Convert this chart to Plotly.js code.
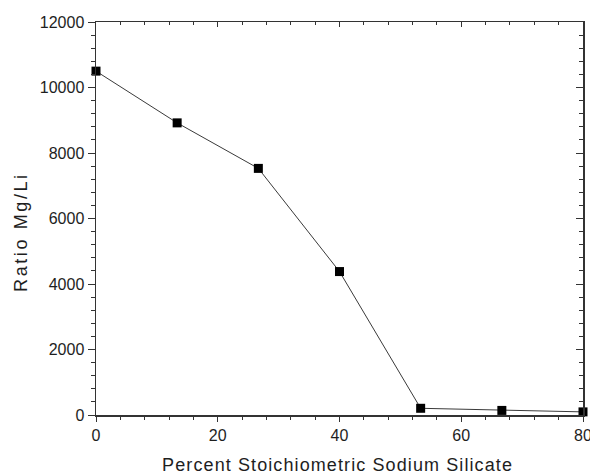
<!DOCTYPE html>
<html>
<head>
<meta charset="utf-8">
<script src="https://cdn.plot.ly/plotly-3.0.1.min.js"></script>
<style>
html,body{margin:0;padding:0;background:#fff;}
#chart{width:590px;height:472px;}
.xtitle-ann text{letter-spacing:1px;}
</style>
</head>
<body>
<div id="chart"></div>
<script>
var percentSilicate = [0, 13.33, 26.67, 40, 53.33, 66.67, 80];
var ratioMgLi = [10500, 8920, 7530, 4380, 205, 140, 95];
var xTickVals = [0, 20, 40, 60, 80];
var yTickVals = [0, 2000, 4000, 6000, 8000, 10000, 12000];
var xTitle = "Percent Stoichiometric Sodium Silicate";
var yTitle = "Ratio Mg/Li";

var fontFam = "Liberation Sans, Arial, sans-serif";
var axisCol = "#333333";
var txtCol = "#1e1e1e";

var trace = {
  x: percentSilicate, y: ratioMgLi, type: "scatter", mode: "lines+markers",
  line: {color: "#3a3a3a", width: 1},
  marker: {symbol: "square", size: 9, color: "#000000"},
  cliponaxis: false, showlegend: false
};

var layout = {
  width: 590, height: 472,
  margin: {l: 96, r: 7, t: 22, b: 57},
  paper_bgcolor: "#ffffff", plot_bgcolor: "#ffffff",
  font: {family: fontFam, size: 16, color: txtCol},
  xaxis: {
    range: [0, 80], tickmode: "array", tickvals: xTickVals, showgrid: false, zeroline: false,
    showline: true, linecolor: axisCol, linewidth: 1.5,
    ticks: "outside", ticklen: 5, tickwidth: 1, tickcolor: axisCol,
    minor: {dtick: 4, tick0: 0, ticks: "outside", ticklen: 3, tickcolor: axisCol, showgrid: false},
    tickfont: {family: fontFam, size: 16, color: txtCol},
    ticklabeloverflow: "allow"
  },
  yaxis: {
    range: [0, 12000], tickmode: "array", tickvals: yTickVals, tickformat: "d",
    showgrid: false, zeroline: false,
    showline: true, linecolor: axisCol, linewidth: 1.5,
    ticks: "outside", ticklen: 7, tickwidth: 1, tickcolor: axisCol,
    minor: {dtick: 400, tick0: 0, ticks: "outside", ticklen: 4, tickcolor: axisCol, showgrid: false},
    tickfont: {family: fontFam, size: 16, color: txtCol},
    ticklabeloverflow: "allow"
  },
  xaxis2: {
    overlaying: "x", side: "top", range: [0, 80], dtick: 20, tick0: 0,
    showgrid: false, zeroline: false, showticklabels: false,
    showline: true, linecolor: axisCol, linewidth: 1.5,
    ticks: "inside", ticklen: 5, tickwidth: 1, tickcolor: axisCol,
    minor: {dtick: 4, tick0: 0, ticks: "inside", ticklen: 3, tickcolor: axisCol, showgrid: false}
  },
  yaxis2: {
    overlaying: "y", side: "right", range: [0, 12000], dtick: 2000, tick0: 0,
    showgrid: false, zeroline: false, showticklabels: false,
    showline: true, linecolor: axisCol, linewidth: 1.5,
    ticks: "inside", ticklen: 7, tickwidth: 1, tickcolor: axisCol,
    minor: {dtick: 400, tick0: 0, ticks: "inside", ticklen: 4, tickcolor: axisCol, showgrid: false}
  },
  annotations: [
    {text: xTitle, xref: "paper", yref: "paper", x: 0.496, y: -0.127,
     xanchor: "center", yanchor: "middle", showarrow: false,
     font: {family: fontFam, size: 18, color: txtCol}},
    {text: yTitle, xref: "paper", yref: "paper", x: -0.154, y: 0.464,
     xanchor: "center", yanchor: "middle", textangle: -90, showarrow: false,
     font: {family: fontFam, size: 18, color: txtCol}}
  ]
};

var dummy = {x: [0], y: [0], xaxis: "x2", yaxis: "y2", mode: "markers",
  marker: {opacity: 0}, showlegend: false, hoverinfo: "skip"};

Plotly.newPlot("chart", [dummy, trace], layout, {displayModeBar: false, staticPlot: true}).then(function(){
  var anns = document.querySelectorAll(".annotation-text");
  if (anns[0]) anns[0].style.letterSpacing = "1.1px";
  if (anns[1]) anns[1].style.letterSpacing = "2.6px";
});
</script>
</body>
</html>
